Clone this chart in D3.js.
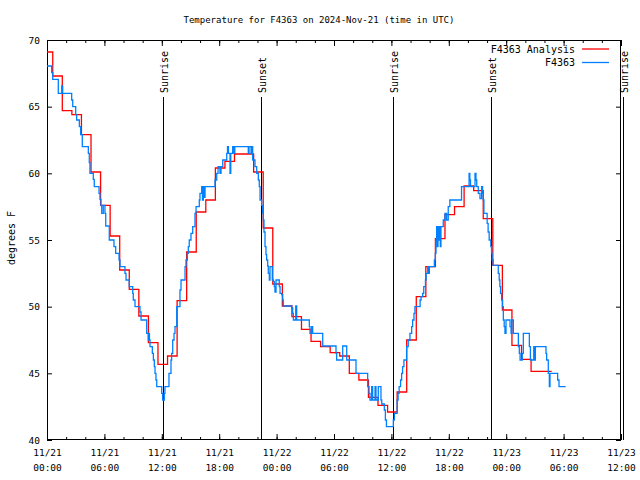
<!DOCTYPE html>
<html><head><meta charset="utf-8">
<script src="https://cdn.jsdelivr.net/npm/d3@7"></script>
<style>
body{margin:0;background:#fff}
svg{display:block}
text{font-family:"DejaVu Sans Mono","Liberation Mono",monospace;fill:#000}
</style>
</head><body>
<svg id="chart" width="640" height="480"></svg>
<script>
// ---- data (hours after 2024-11-21 00:00 UTC) ----
const analysisTimes = [-0.4,0.6,1.6,2.6,3.6,4.6,5.6,6.6,7.6,8.6,9.6,10.6,11.6,12.6,13.6,14.6,15.6,16.6,17.6,18.6,19.6,20.6,21.6,22.6,23.6,24.6,25.6,26.6,27.6,28.6,29.6,30.6,31.6,32.6,33.6,34.6,35.6,36.6,37.6,38.6,39.6,40.6,41.6,42.6,43.6,44.6,45.6,46.6,47.6,48.6,49.6,50.6,51.6,52.75];
const analysisValues = [69.1,67.3,64.7,64.4,62.9,60.1,57.6,55.3,52.75,51.3,49.3,47.3,45.67,46.3,50.45,54.1,57.1,58.0,60.4,60.9,61.45,61.45,60.1,55.9,51.7,50.05,49.25,48.3,47.4,47.0,46.55,46.3,45.0,44.5,43.2,42.6,42.1,43.6,47.5,50.75,53.0,55.1,56.9,57.5,59.05,58.7,56.6,53.1,49.75,47.1,46.05,45.15,45.15,45.15];

const obsTimes = [0.00,0.49,0.60,1.18,1.54,1.64,2.58,2.69,3.00,3.10,3.38,3.52,3.69,4.32,4.42,4.49,4.84,4.94,5.44,5.54,5.64,5.72,5.88,6.06,6.14,6.51,7.00,7.18,7.53,7.63,8.15,8.26,8.60,8.96,9.02,9.20,9.72,9.83,10.42,10.59,10.66,10.71,10.77,11.01,11.12,11.22,11.29,11.39,11.47,11.99,12.09,12.26,12.33,12.75,12.96,13.03,13.14,13.28,13.38,13.56,13.90,14.01,14.43,14.53,14.67,14.77,14.87,15.05,15.23,15.47,15.58,15.92,15.99,16.17,16.25,16.34,16.44,16.52,17.56,17.74,17.88,18.08,18.19,18.37,18.79,18.87,18.96,19.13,19.21,19.41,19.55,19.63,21.04,21.12,21.33,21.40,21.50,21.74,21.92,22.09,22.19,22.27,22.44,22.55,22.61,22.68,22.79,22.89,22.96,23.07,23.13,23.24,23.31,23.55,23.66,23.76,23.83,23.94,24.28,24.36,24.53,24.64,24.70,25.58,25.68,25.75,26.00,26.10,27.42,27.49,27.67,27.77,28.82,30.21,30.28,30.91,31.33,32.30,33.52,33.66,33.76,33.94,34.04,34.29,34.39,34.63,34.91,34.99,35.26,35.37,35.48,36.20,36.31,36.60,36.70,36.81,36.96,37.07,37.17,37.31,37.59,37.76,37.94,38.12,38.22,38.36,38.46,39.00,39.10,39.27,39.38,39.56,39.63,39.80,39.90,39.97,40.49,40.59,40.66,40.73,40.80,40.87,40.94,41.01,41.11,41.18,41.42,41.60,41.77,41.94,42.11,43.33,44.12,44.20,44.27,44.74,44.84,44.92,45.08,45.26,45.43,45.53,45.60,45.67,46.01,46.11,46.22,46.39,46.47,46.53,46.63,47.17,47.27,47.34,47.41,47.52,47.62,47.70,47.79,47.87,47.98,48.40,48.51,48.57,48.75,49.27,49.37,49.45,49.68,49.79,50.42,50.53,50.88,50.98,51.05,52.16,52.23,52.40,52.51,52.58,53.38,53.52,54.22];
const obsValues = [68.05,67.55,67.05,66.0,66.55,66.0,65.5,65.0,64.4,64.0,63.5,62.9,62.0,61.5,60.8,60.0,59.55,59.0,58.5,58.05,57.6,57.0,57.6,57.0,56.05,55.0,54.5,54.0,53.5,53.0,52.5,52.0,51.5,51.0,50.5,50.0,49.6,49.0,48.0,47.5,48.0,47.5,47.0,46.5,46.0,45.5,45.0,44.5,44.0,43.5,43.0,43.5,44.0,45.0,46.0,46.5,47.5,48.0,48.5,50.0,51.25,52.0,53.0,53.5,54.0,54.5,55.0,55.5,56.0,57.0,57.5,58.0,58.5,59.0,58.0,59.0,58.2,59.0,59.5,60.0,60.5,60.0,60.5,61.0,61.5,62.0,61.5,60.0,61.5,62.0,61.5,62.0,61.5,62.0,61.5,62.0,61.0,60.5,60.0,59.5,59.0,58.0,57.6,57.0,56.5,55.6,54.5,53.9,53.5,53.05,52.5,52.0,53.0,52.0,51.9,51.5,51.1,52.0,51.5,51.0,50.9,50.5,50.05,49.9,49.5,49.0,50.05,49.0,48.5,48.0,48.5,48.0,47.05,46.5,46.0,47.05,46.0,45.0,44.0,43.5,43.0,44.0,43.0,44.0,43.0,44.0,43.0,42.7,42.25,41.5,41.0,41.5,42.0,43.0,43.5,44.0,44.5,45.0,45.5,46.0,47.0,47.5,48.0,48.5,49.0,49.5,50.0,50.5,50.75,51.0,51.5,52.0,52.5,53.0,52.5,53.0,53.5,54.0,55.0,56.0,54.5,56.0,55.0,56.0,54.5,56.0,56.5,57.0,56.5,57.5,58.0,59.0,60.0,59.5,59.0,60.0,59.5,59.0,58.5,58.1,59.0,58.5,58.0,57.0,56.25,55.6,55.0,54.5,54.0,53.5,53.1,52.5,52.0,51.5,51.0,50.5,50.0,49.0,48.5,48.0,49.0,48.5,48.0,49.0,48.0,47.0,46.5,46.0,46.5,48.0,47.0,46.0,47.0,46.0,47.0,46.5,46.0,45.0,44.0,45.0,44.5,44.0,44.0];

const sunTimes = [12.16, 22.33, 36.2, 46.36, 60.18];
const sunLabels = ["Sunrise","Sunset","Sunrise","Sunset","Sunrise"];
const yTickValues = [40,45,50,55,60,65,70];
const seriesNames = ["F4363 Analysis","F4363"];
const seriesColors = ["#ff0000","#0080ff"];
const titleText = "Temperature for F4363 on 2024-Nov-21 (time in UTC)";
const yLabelText = "degrees F";

// ---- setup ----
const base = Date.UTC(2024,10,21,0,0);
const toDate = h => new Date(base + h*3600e3);
const W = 640, H = 480;
const m = {left:47, right:19, top:40, bottom:40};
const svg = d3.select("#chart");

const x = d3.scaleUtc().domain([toDate(0), toDate(60)]).range([m.left, W - m.right]);
const y = d3.scaleLinear().domain([40,70]).range([H - m.bottom, m.top]);

svg.append("defs").append("clipPath").attr("id","clip")
  .append("rect").attr("x",m.left).attr("y",m.top)
  .attr("width",W-m.left-m.right).attr("height",H-m.top-m.bottom);

const majorTicks = d3.utcHour.every(6).range(toDate(0), toDate(60.01));
const minorTicks = d3.utcHour.every(2).range(toDate(0), toDate(60.01));
const fmtDate = d3.utcFormat("%m/%d"), fmtTime = d3.utcFormat("%H:%M");

// bottom axis minor
svg.append("g").attr("transform",`translate(0,${H-m.bottom})`)
  .call(d3.axisBottom(x).tickValues(minorTicks).tickSize(-3).tickFormat(""))
  .call(g=>g.select(".domain").remove());
// bottom axis major
const gx = svg.append("g").attr("transform",`translate(0,${H-m.bottom})`)
  .call(d3.axisBottom(x).tickValues(majorTicks).tickSize(-6).tickPadding(6).tickFormat(d=>""))
  .call(g=>g.select(".domain").remove());
gx.selectAll(".tick text").each(function(d){
  const t = d3.select(this).attr("y",null).attr("dy",null);
  t.append("tspan").attr("x",0).attr("y",16).text(fmtDate(d));
  t.append("tspan").attr("x",0).attr("y",31).text(fmtTime(d));
}).attr("font-size",9.5).attr("font-family",null);
// top axis
svg.append("g").attr("transform",`translate(0,${m.top})`)
  .call(d3.axisTop(x).tickValues(minorTicks).tickSize(-3).tickFormat(""))
  .call(g=>g.select(".domain").remove());
svg.append("g").attr("transform",`translate(0,${m.top})`)
  .call(d3.axisTop(x).tickValues(majorTicks).tickSize(-6).tickFormat(""))
  .call(g=>g.select(".domain").remove());
// left axis
const gy = svg.append("g").attr("transform",`translate(${m.left},0)`)
  .call(d3.axisLeft(y).tickValues(yTickValues).tickSize(-5).tickPadding(7).tickFormat(d3.format("d")))
  .call(g=>g.select(".domain").remove());
gy.selectAll(".tick text").attr("font-size",9.5).attr("font-family",null);
// right axis
svg.append("g").attr("transform",`translate(${W-m.right},0)`)
  .call(d3.axisRight(y).tickValues(yTickValues).tickSize(-5).tickFormat(""))
  .call(g=>g.select(".domain").remove());
svg.selectAll(".tick line").attr("stroke","#000");

// border
svg.append("rect").attr("x",m.left+0.5).attr("y",m.top+0.5)
  .attr("width",W-m.left-m.right-1).attr("height",H-m.top-m.bottom-1)
  .attr("fill","none").attr("stroke","#000").attr("stroke-width",1);

// sun lines
sunTimes.forEach((t,i)=>{
  const sx = Math.round(x(toDate(t)))+0.5;
  svg.append("line").attr("x1",sx).attr("x2",sx).attr("y1",H-m.bottom).attr("y2",97)
    .attr("stroke","#000").attr("stroke-width",1);
  svg.append("text").attr("transform",`translate(${sx+4},93) rotate(-90)`)
    .attr("font-size",10).text(sunLabels[i]);
});

// series
const plot = svg.append("g").attr("clip-path","url(#clip)");
const line = d3.line().curve(d3.curveStepAfter).x(d=>x(toDate(d[0]))).y(d=>y(d[1]));
plot.append("path").datum(d3.zip(analysisTimes, analysisValues))
  .attr("d",line).attr("fill","none").attr("stroke",seriesColors[0]).attr("stroke-width",1.3);
plot.append("path").datum(d3.zip(obsTimes, obsValues))
  .attr("d",line).attr("fill","none").attr("stroke",seriesColors[1]).attr("stroke-width",1.3);

// legend
seriesNames.forEach((n,i)=>{
  const ly = 49 + i*13.5;
  svg.append("text").attr("x",575).attr("y",ly).attr("dy","0.35em")
    .attr("text-anchor","end").attr("font-size",10).text(n);
  svg.append("line").attr("x1",582).attr("x2",609).attr("y1",ly).attr("y2",ly)
    .attr("stroke",seriesColors[i]).attr("stroke-width",1.3);
});

// title & y label
svg.append("text").attr("x",319).attr("y",20).attr("dy","0.35em")
  .attr("text-anchor","middle").attr("font-size",9).text(titleText);
svg.append("text").attr("transform","translate(11,238) rotate(-90)")
  .attr("text-anchor","middle").attr("dy","0.35em").attr("font-size",10).text(yLabelText);
</script>
</body></html>
